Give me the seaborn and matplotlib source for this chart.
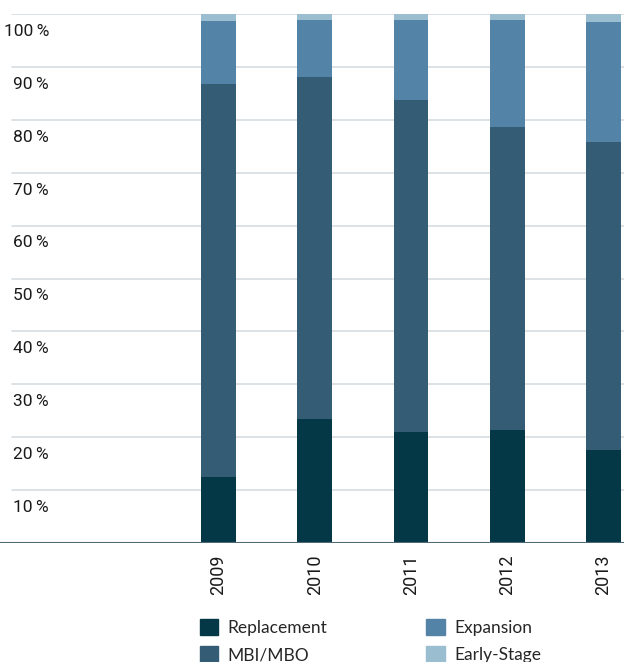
import numpy as np
import pandas as pd
import matplotlib
matplotlib.use("Agg")
import matplotlib.pyplot as plt
import matplotlib.patches as mpatches
import seaborn as sns

years = ["2009", "2010", "2011", "2012", "2013"]
replacement = [12.5, 23.4, 21.0, 21.4, 17.6]
mbi_mbo = [74.3, 64.7, 62.7, 57.2, 58.2]
expansion = [11.9, 10.8, 15.2, 20.3, 22.7]
early_stage = [1.3, 1.1, 1.1, 1.1, 1.5]
segments = ["Replacement", "MBI/MBO", "Expansion", "Early-Stage"]
colors = ["#053846", "#355c75", "#5383a6", "#9bbdd0"]
ytick_vals = [10, 20, 30, 40, 50, 60, 70, 80, 90, 100]

sns.set_theme(style="white")
plt.rcParams["font.family"] = ["Roboto", "DejaVu Sans"]

vals = np.array([replacement, mbi_mbo, expansion, early_stage])
cum = np.cumsum(vals, axis=0)
rows = []
for si, seg in enumerate(segments):
    for yi, yr in enumerate(years):
        rows.append({"year": yr, "segment": seg, "cum": cum[si, yi]})
df = pd.DataFrame(rows)

fig = plt.figure(figsize=(6.24, 6.62), dpi=100)
ax = fig.add_axes([0, (662 - 543) / 662, 1, (543 - 14) / 662])

pal = dict(zip(segments, colors))
sns.barplot(data=df, x="year", y="cum", hue="segment", order=years,
            hue_order=segments[::-1], palette=pal, dodge=False,
            width=0.363, saturation=1, legend=False, ax=ax, zorder=3,
            linewidth=0, edgecolor="none")

ax.set_xlim(-2.27, 4.213)
ax.set_ylim(0, 100)
for s in ax.spines.values():
    s.set_visible(False)
ax.set_xlabel("")
ax.set_ylabel("")
ax.set_yticks([])

for v in ytick_vals:
    ax.axhline(v, xmin=12 / 624, xmax=1, color="#d5dde0", lw=1.2, zorder=1)
    ax.annotate(f"{v}\u2009%", xy=(49 / 624, v), xycoords=("axes fraction", "data"),
                xytext=(0, -12.5), textcoords="offset points",
                ha="right", va="center", fontsize=12.5, color="#1a1a1a")
ax.axhline(0, color="#4d6b75", lw=1.5, zorder=4)

ax.tick_params(axis="x", length=0, pad=8)
ax.set_xticks(range(len(years)))
ax.set_xticklabels(years, rotation=90, fontsize=13, color="#1a1a1a", va="top")

handles = [mpatches.Patch(color=c, label=s) for s, c in zip(segments, colors)]
fig.legend(handles=handles, ncol=2, loc="upper left",
           bbox_to_anchor=(200 / 624, 1 - 619 / 662), frameon=False,
           borderpad=0, borderaxespad=0, handlelength=1.05, handleheight=1.05,
           handletextpad=0.55, columnspacing=5.7, labelspacing=0.6,
           prop={"family": ["Lato", "DejaVu Sans"], "size": 12.5})

fig.savefig("out.png", dpi=100)
